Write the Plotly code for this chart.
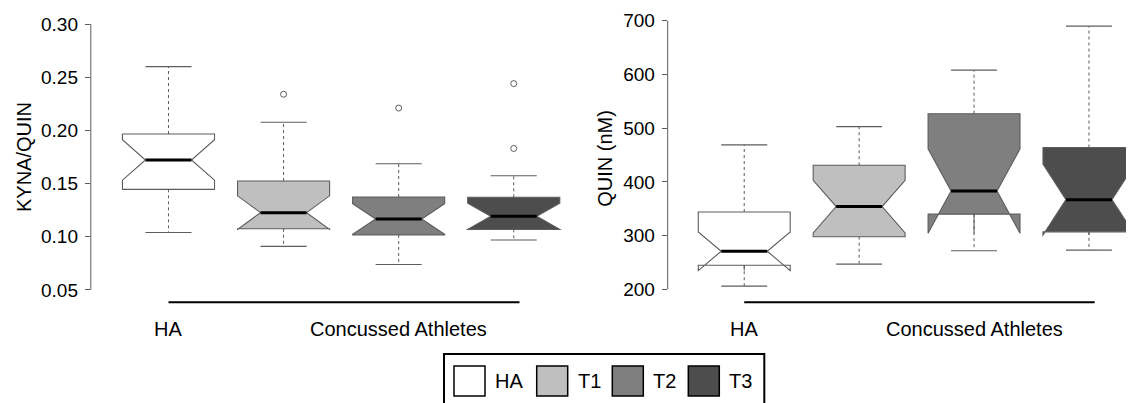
import plotly.graph_objects as go

# ---------------- data ----------------
groups = ["HA", "T1", "T2", "T3"]
positions = [1, 2, 3, 4]
fills = ["#FFFFFF", "#BFBFBF", "#7F7F7F", "#4D4D4D"]

# Panel A: KYNA/QUIN ratio
kq_lower = [0.104, 0.091, 0.074, 0.097]
kq_q1 = [0.1446, 0.1075, 0.1017, 0.1070]
kq_median = [0.1722, 0.1227, 0.1167, 0.1193]
kq_q3 = [0.1966, 0.1524, 0.1374, 0.1371]
kq_upper = [0.260, 0.2076, 0.1687, 0.1574]
kq_notch = [0.0190, 0.0158, 0.0144, 0.0123]
kq_outliers = [[], [0.234], [0.221], [0.244, 0.183]]
kq_ticks = [0.05, 0.10, 0.15, 0.20, 0.25, 0.30]

# Panel B: QUIN (nM)
qn_lower = [206, 247, 272, 273]
qn_q1 = [245, 298, 340, 307]
qn_median = [271, 354, 383, 367]
qn_q3 = [344, 431, 527, 464]
qn_upper = [469, 503, 608, 690]
qn_notch = [36, 49, 78.5, 66]
qn_outliers = [[], [], [], []]
qn_ticks = [200, 300, 400, 500, 600, 700]

group_labels = ["HA", "Concussed Athletes"]
group_label_pos = [1, 3]
bracket_span = [1, 4.05]

# ---------------- style ----------------
WIN_W, WIN_H = 1134, 403
OFF = 8  # default page body margin around the plot div
W, H = WIN_W - OFF, WIN_H - OFF
EDGE = "#5c5c5c"
FONT = "Liberation Sans, Arial, Helvetica, sans-serif"
BOX_W = 0.8
CAP_HALF = 0.2
MED_HALF = 0.2


def px(x):
    return (x - OFF) / W


def py(y):
    return 1 - (y - OFF) / H


fig = go.Figure()


def add_panel(xa, ya, lower, q1, med, q3, upper, notch, outliers):
    for p, f, a, b, c, ns in zip(positions, fills, q1, med, q3, notch):
        fig.add_trace(go.Box(
            x=[p], q1=[a], median=[b], q3=[c], lowerfence=[a], upperfence=[c],
            notchspan=[ns], notched=True, notchwidth=0.25, width=BOX_W,
            fillcolor=f, line=dict(color=EDGE, width=1.1), whiskerwidth=0,
            boxpoints=False, showlegend=False, hoverinfo="skip",
            xaxis=xa, yaxis=ya))
    # dashed whiskers
    wx, wy = [], []
    for p, a, c, lo, hi in zip(positions, q1, q3, lower, upper):
        wx += [p, p, None, p, p, None]
        wy += [c, hi, None, a, lo, None]
    fig.add_trace(go.Scatter(x=wx, y=wy, mode="lines",
                             line=dict(color=EDGE, width=1, dash="3px,3px"),
                             showlegend=False, hoverinfo="skip", xaxis=xa, yaxis=ya))
    # caps
    cx, cy = [], []
    for p, lo, hi in zip(positions, lower, upper):
        cx += [p - CAP_HALF, p + CAP_HALF, None, p - CAP_HALF, p + CAP_HALF, None]
        cy += [hi, hi, None, lo, lo, None]
    fig.add_trace(go.Scatter(x=cx, y=cy, mode="lines",
                             line=dict(color=EDGE, width=1.1),
                             showlegend=False, hoverinfo="skip", xaxis=xa, yaxis=ya))
    # medians
    mx, my = [], []
    for p, b in zip(positions, med):
        mx += [p - MED_HALF, p + MED_HALF, None]
        my += [b, b, None]
    fig.add_trace(go.Scatter(x=mx, y=my, mode="lines",
                             line=dict(color="black", width=3),
                             showlegend=False, hoverinfo="skip", xaxis=xa, yaxis=ya))
    # outliers
    ox, oy = [], []
    for p, outs in zip(positions, outliers):
        for v in outs:
            ox.append(p)
            oy.append(v)
    if ox:
        fig.add_trace(go.Scatter(x=ox, y=oy, mode="markers",
                                 marker=dict(symbol="circle-open", size=6,
                                             color=EDGE, line=dict(width=1, color=EDGE)),
                                 showlegend=False, hoverinfo="skip", xaxis=xa, yaxis=ya))


add_panel("x", "y", kq_lower, kq_q1, kq_median, kq_q3, kq_upper, kq_notch, kq_outliers)
add_panel("x2", "y2", qn_lower, qn_q1, qn_median, qn_q3, qn_upper, qn_notch, qn_outliers)

yax_common = dict(showgrid=False, zeroline=False, showline=False, ticks="outside",
                  ticklen=5, tickwidth=1, tickcolor=EDGE,
                  tickfont=dict(size=19, color="black", family=FONT),
                  ticklabelstandoff=3, automargin=False)
xax_common = dict(visible=False, type="linear", showgrid=False, zeroline=False)

fig.update_layout(
    width=W, height=H, autosize=False,
    margin=dict(l=0, r=0, t=0, b=0, pad=0),
    paper_bgcolor="white", plot_bgcolor="white",
    boxmode="overlay",
    font=dict(family=FONT, color="black"),
    xaxis=dict(domain=[px(90.8), px(589.7)], range=[0.325, 4.66], anchor="y", **xax_common),
    yaxis=dict(domain=[py(300.6), py(13.4)], range=[0.04, 0.31], anchor="x",
               tickvals=kq_ticks, tickformat=".2f", **yax_common),
    xaxis2=dict(domain=[px(667.7), 1.0], range=[0.334, 4.392], anchor="y2", **xax_common),
    yaxis2=dict(domain=[py(300.1), py(10)], range=[180, 720], anchor="x2",
                tickvals=qn_ticks, **yax_common),
)

shapes = []
annotations = []
# R-style axis lines spanning only the tick range
for xr, yr, ticks in [("x domain", "y", kq_ticks), ("x2 domain", "y2", qn_ticks)]:
    shapes.append(dict(type="line", xref=xr, yref=yr, x0=0, x1=0,
                       y0=ticks[0], y1=ticks[-1], line=dict(color=EDGE, width=1)))

# group brackets and labels
for xr in ["x", "x2"]:
    shapes.append(dict(type="line", xref=xr, yref="paper",
                       x0=bracket_span[0], x1=bracket_span[1], y0=py(302.3), y1=py(302.3),
                       line=dict(color="black", width=2)))
    for lab, pos in zip(group_labels, group_label_pos):
        annotations.append(dict(text=lab, xref=xr, yref="paper", x=pos, y=py(329),
                                xanchor="center", yanchor="middle", showarrow=False,
                                font=dict(size=20, color="black", family=FONT)))

# axis titles
annotations.append(dict(text="KYNA/QUIN", xref="paper", yref="paper", x=px(23.5), y=py(157.5),
                        textangle=-90, xanchor="center", yanchor="middle", showarrow=False,
                        font=dict(size=20, color="black", family=FONT)))
annotations.append(dict(text="QUIN (nM)", xref="paper", yref="paper", x=px(605), y=py(158.8),
                        textangle=-90, xanchor="center", yanchor="middle", showarrow=False,
                        font=dict(size=20, color="black", family=FONT)))

# manual legend (large swatches as in the original)
shapes.append(dict(type="rect", xref="paper", yref="paper", x0=px(444), x1=px(764.3),
                   y0=py(354), y1=py(420), line=dict(color="black", width=2),
                   fillcolor="rgba(0,0,0,0)"))
sw_left = [454, 536.7, 612.3, 688.3]
for lab, col, x0 in zip(groups, fills, sw_left):
    shapes.append(dict(type="rect", xref="paper", yref="paper", x0=px(x0), x1=px(x0 + 31),
                       y0=py(396), y1=py(366), line=dict(color="black", width=1.5),
                       fillcolor=col))
    annotations.append(dict(text=lab, xref="paper", yref="paper", x=px(x0 + 39), y=py(381),
                            xanchor="left", yanchor="middle", showarrow=False,
                            font=dict(size=20, color="black", family=FONT)))

fig.update_layout(shapes=shapes, annotations=annotations)
fig.write_html("out.html")
